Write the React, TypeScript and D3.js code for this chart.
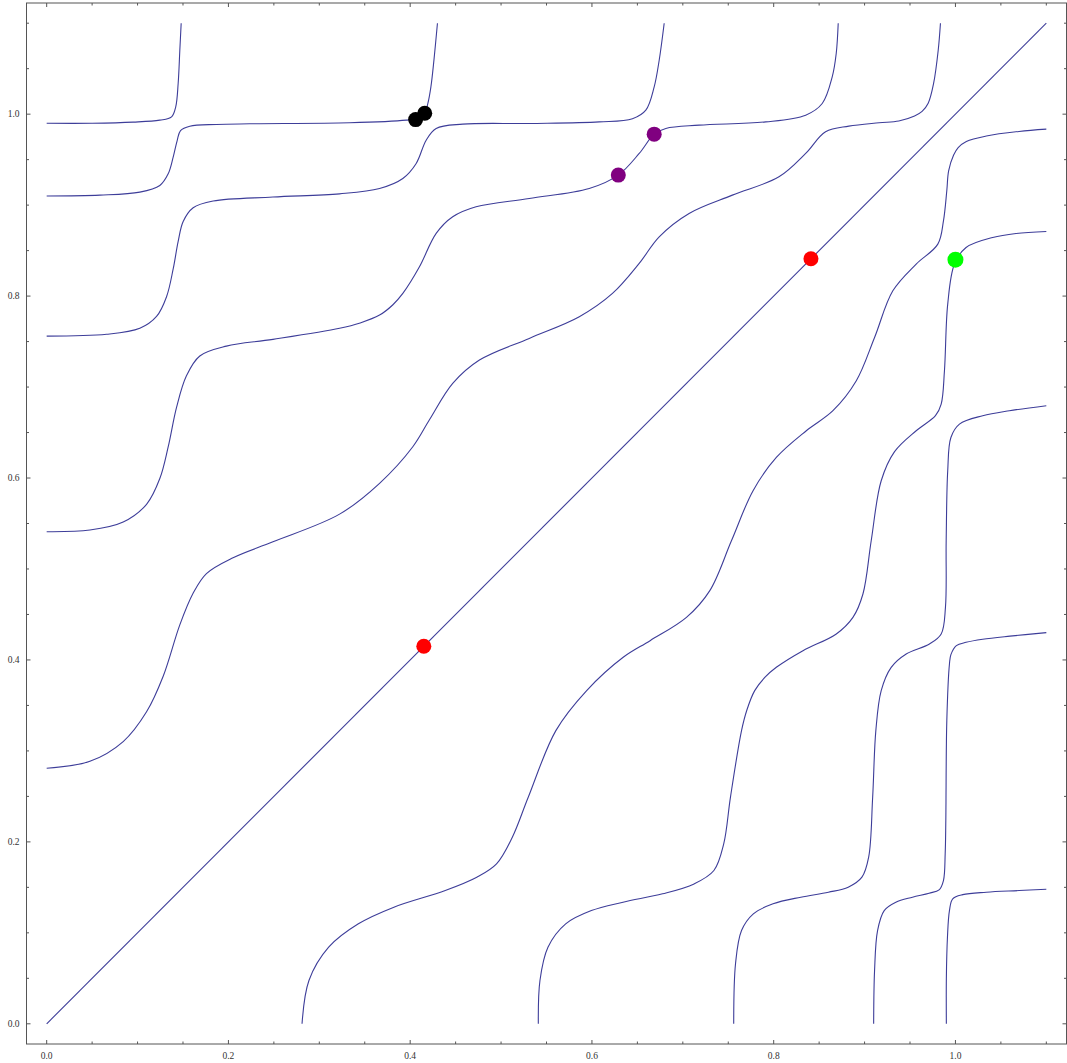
import React, { useEffect, useRef } from "react";
import * as d3 from "d3";

type Pt = [number, number];

// curves that start on the left edge (x = 0)
const leftCurve099: Pt[] = [
  [0, 0.99], [0.05, 0.99], [0.0952, 0.9912], [0.1245, 0.9934], [0.1374, 0.997],
  [0.142, 1.008], [0.1447, 1.034], [0.1465, 1.07], [0.148, 1.1],
];
const leftCurve091: Pt[] = [
  [0, 0.91], [0.0586, 0.911], [0.1025, 0.9143], [0.1245, 0.9216], [0.1337, 0.9344],
  [0.1392, 0.9527], [0.1436, 0.971], [0.1473, 0.982], [0.1575, 0.9868], [0.1868, 0.9887],
  [0.2234, 0.9894], [0.3333, 0.9905], [0.3956, 0.9934], [0.4058, 0.995], [0.4157, 1.001],
  [0.4194, 1.0117], [0.4228, 1.03], [0.4262, 1.06], [0.43, 1.1],
];
const leftCurve076: Pt[] = [
  [0, 0.756], [0.066, 0.758], [0.1025, 0.7646], [0.1209, 0.7776], [0.1319, 0.7993],
  [0.1392, 0.8298], [0.1447, 0.8602], [0.1502, 0.882], [0.1612, 0.8971], [0.1832, 0.9045],
  [0.249, 0.9089], [0.3223, 0.9124], [0.3663, 0.9183], [0.3919, 0.9293], [0.4066, 0.9458],
  [0.4176, 0.9714], [0.4286, 0.9843], [0.4578, 0.989], [0.531, 0.9898], [0.608, 0.9915],
  [0.6446, 0.995], [0.6593, 1.0044], [0.6685, 1.03], [0.674, 1.0593], [0.6795, 1.1],
];
const leftCurve054: Pt[] = [
  [0, 0.541], [0.0476, 0.5428], [0.0842, 0.5516], [0.1099, 0.5711], [0.1245, 0.5994],
  [0.1337, 0.6342], [0.1429, 0.6777], [0.1538, 0.7124], [0.1685, 0.7342], [0.1978, 0.745],
  [0.249, 0.7524], [0.3223, 0.7646], [0.345, 0.7705], [0.3663, 0.7791], [0.381, 0.7905],
  [0.3919, 0.8029], [0.4102, 0.8322], [0.4286, 0.8689], [0.4468, 0.8872], [0.4725, 0.8982],
  [0.531, 0.9073], [0.597, 0.9183], [0.629, 0.933], [0.652, 0.9568], [0.6685, 0.978],
  [0.6813, 0.9843], [0.7179, 0.9879], [0.7912, 0.9915], [0.8352, 0.9989], [0.8534, 1.0117],
  [0.8644, 1.041], [0.8688, 1.0667], [0.871, 1.1],
];
const leftCurve028: Pt[] = [
  [0, 0.281], [0.0476, 0.2886], [0.0842, 0.3103], [0.1099, 0.343], [0.1282, 0.3821],
  [0.1465, 0.4386], [0.1611, 0.4733], [0.1758, 0.495], [0.2051, 0.5124], [0.249, 0.5299],
  [0.3223, 0.5603], [0.3663, 0.5942], [0.4029, 0.6344], [0.4212, 0.664], [0.4468, 0.704],
  [0.4762, 0.7297], [0.531, 0.7535], [0.5861, 0.7773], [0.6226, 0.8029], [0.652, 0.8359],
  [0.674, 0.8652], [0.7069, 0.8909], [0.7545, 0.911], [0.8058, 0.9311], [0.8352, 0.9568],
  [0.8571, 0.9806], [0.8827, 0.9868], [0.916, 0.9905], [0.9377, 0.9925], [0.955, 0.998],
  [0.9633, 1.003], [0.97, 1.012], [0.976, 1.034], [0.981, 1.07], [0.9835, 1.1],
];

// curves that start on the bottom edge (y = 0)
const bottomCurve028: Pt[] = [
  [0.281, 0], [0.2886, 0.0476], [0.3103, 0.0842], [0.343, 0.1099], [0.3821, 0.1282],
  [0.4386, 0.1465], [0.4733, 0.1611], [0.495, 0.1758], [0.5124, 0.2051], [0.5299, 0.249],
  [0.5603, 0.3223], [0.5942, 0.3663], [0.6344, 0.4029], [0.664, 0.4212], [0.704, 0.4468],
  [0.7297, 0.4762], [0.7535, 0.531], [0.7773, 0.5861], [0.8029, 0.6226], [0.8359, 0.652],
  [0.8652, 0.674], [0.8909, 0.7069], [0.911, 0.7545], [0.9311, 0.8058], [0.9568, 0.8352],
  [0.9806, 0.8571], [0.9868, 0.8827], [0.9905, 0.916], [0.9925, 0.9377], [0.998, 0.955],
  [1.003, 0.9633], [1.012, 0.97], [1.034, 0.976], [1.07, 0.981], [1.1, 0.9835],
];
const bottomCurve054: Pt[] = [
  [0.541, 0], [0.5428, 0.0476], [0.5516, 0.0842], [0.5711, 0.1099], [0.5994, 0.1245],
  [0.6342, 0.1337], [0.6777, 0.1429], [0.7124, 0.1538], [0.7342, 0.1685], [0.745, 0.1978],
  [0.7524, 0.249], [0.7646, 0.3223], [0.7705, 0.345], [0.7791, 0.3663], [0.7905, 0.381],
  [0.8029, 0.3919], [0.8322, 0.4102], [0.8689, 0.4286], [0.8872, 0.4468], [0.8982, 0.4725],
  [0.9073, 0.531], [0.9183, 0.597], [0.933, 0.629], [0.9568, 0.652], [0.978, 0.6685],
  [0.9843, 0.6813], [0.9879, 0.7179], [0.9915, 0.7912], [0.9989, 0.8352], [1.0117, 0.8534],
  [1.041, 0.8644], [1.0667, 0.8688], [1.1, 0.871],
];
const bottomCurve076: Pt[] = [
  [0.756, 0], [0.758, 0.066], [0.7646, 0.1025], [0.7776, 0.1209], [0.7993, 0.1319],
  [0.8298, 0.1392], [0.8602, 0.1447], [0.882, 0.1502], [0.8971, 0.1612], [0.9045, 0.1832],
  [0.9089, 0.249], [0.9124, 0.3223], [0.9183, 0.3663], [0.9293, 0.3919], [0.9458, 0.4066],
  [0.9714, 0.4176], [0.9843, 0.4286], [0.989, 0.4578], [0.9898, 0.531], [0.9915, 0.608],
  [0.995, 0.6446], [1.0044, 0.6593], [1.03, 0.6685], [1.0593, 0.674], [1.1, 0.6795],
];
const bottomCurve091: Pt[] = [
  [0.91, 0], [0.911, 0.0586], [0.9143, 0.1025], [0.9216, 0.1245], [0.9344, 0.1337],
  [0.9527, 0.1392], [0.971, 0.1436], [0.982, 0.1473], [0.9868, 0.1575], [0.9887, 0.1868],
  [0.9894, 0.2234], [0.9905, 0.3333], [0.9934, 0.3956], [0.995, 0.4058], [1.001, 0.4157],
  [1.0117, 0.4194], [1.03, 0.4228], [1.06, 0.4262], [1.1, 0.43],
];
const bottomCurve099: Pt[] = [
  [0.99, 0], [0.99, 0.05], [0.9912, 0.0952], [0.9934, 0.1245], [0.997, 0.1374],
  [1.008, 0.142], [1.034, 0.1447], [1.07, 0.1465], [1.1, 0.148],
];

const diagonal: Pt[] = [[0, 0], [1.1, 1.1]];

// highlighted points
const blackPoints: Pt[] = [[0.406, 0.994], [0.416, 1.001]];
const purplePoints: Pt[] = [[0.629, 0.933], [0.6685, 0.978]];
const redPoints: Pt[] = [[0.415, 0.415], [0.841, 0.841]];
const greenPoints: Pt[] = [[1.0, 0.84]];

const majorTicks = [0, 0.2, 0.4, 0.6, 0.8, 1.0];
const minorTicks = [0.05, 0.1, 0.15, 0.25, 0.3, 0.35, 0.45, 0.5, 0.55, 0.65, 0.7, 0.75, 0.85, 0.9, 0.95, 1.05, 1.1];

const width = 1067;
const height = 1063;

const App = () => {
  const svgRef = useRef<SVGSVGElement>(null);

  useEffect(() => {
    const svg = d3.select(svgRef.current);
    svg.selectAll("*").remove();

    const xScale = d3.scaleLinear().domain([-0.0222, 1.1222]).range([26.5, 1066.5]);
    const yScale = d3.scaleLinear().domain([-0.0222, 1.1222]).range([1044, 3]);

    const lineColor = "#3d3d99";
    const frameColor = "#555";

    const line = d3
      .line<Pt>()
      .x((d) => xScale(d[0]))
      .y((d) => yScale(d[1]))
      .curve(d3.curveCatmullRom.alpha(0.5));

    const curves = [
      leftCurve099, leftCurve091, leftCurve076, leftCurve054, leftCurve028,
      bottomCurve028, bottomCurve054, bottomCurve076, bottomCurve091, bottomCurve099,
      diagonal,
    ];

    svg
      .append("g")
      .selectAll("path")
      .data(curves)
      .enter()
      .append("path")
      .attr("d", (d) => line(d))
      .attr("fill", "none")
      .attr("stroke", lineColor)
      .attr("stroke-width", 1.1);

    // frame
    const [x0, x1] = xScale.range();
    const [y0, y1] = yScale.range();
    svg
      .append("rect")
      .attr("x", x0)
      .attr("y", y1)
      .attr("width", x1 - x0)
      .attr("height", y0 - y1)
      .attr("fill", "none")
      .attr("stroke", frameColor)
      .attr("stroke-width", 1);

    // ticks on all four sides, pointing inward
    const ticks = [
      ...majorTicks.map((v) => ({ v, len: 4 })),
      ...minorTicks.map((v) => ({ v, len: 2.5 })),
    ];
    const tickG = svg.append("g").attr("stroke", frameColor).attr("stroke-width", 1);
    ticks.forEach((t) => {
      const x = xScale(t.v);
      const y = yScale(t.v);
      tickG.append("line").attr("x1", x).attr("x2", x).attr("y1", y0).attr("y2", y0 - t.len);
      tickG.append("line").attr("x1", x).attr("x2", x).attr("y1", y1).attr("y2", y1 + t.len);
      tickG.append("line").attr("y1", y).attr("y2", y).attr("x1", x0).attr("x2", x0 + t.len);
      tickG.append("line").attr("y1", y).attr("y2", y).attr("x1", x1).attr("x2", x1 - t.len);
    });

    // tick labels
    const fmt = d3.format(".1f");
    const labelG = svg
      .append("g")
      .style("font-family", "'Liberation Serif', 'Times New Roman', serif")
      .style("font-size", "9.5px")
      .attr("fill", "#333");
    majorTicks.forEach((v) => {
      labelG
        .append("text")
        .attr("x", xScale(v))
        .attr("y", y0 + 15)
        .attr("text-anchor", "middle")
        .text(fmt(v));
      labelG
        .append("text")
        .attr("x", x0 - 7)
        .attr("y", yScale(v))
        .attr("dy", "0.33em")
        .attr("text-anchor", "end")
        .text(fmt(v));
    });

    // points
    const dots = [
      { pts: blackPoints, color: "#000000", r: 7.5 },
      { pts: purplePoints, color: "#800080", r: 7.5 },
      { pts: redPoints, color: "#ff0000", r: 7.5 },
      { pts: greenPoints, color: "#00ff00", r: 8 },
    ];
    dots.forEach((g) => {
      svg
        .append("g")
        .selectAll("circle")
        .data(g.pts)
        .enter()
        .append("circle")
        .attr("cx", (d) => xScale(d[0]))
        .attr("cy", (d) => yScale(d[1]))
        .attr("r", g.r)
        .attr("fill", g.color);
    });
  }, []);

  return (
    <svg
      ref={svgRef}
      width={width}
      height={height}
      style={{ position: "absolute", left: 0, top: 0, background: "#fff" }}
    />
  );
};

export default App;
